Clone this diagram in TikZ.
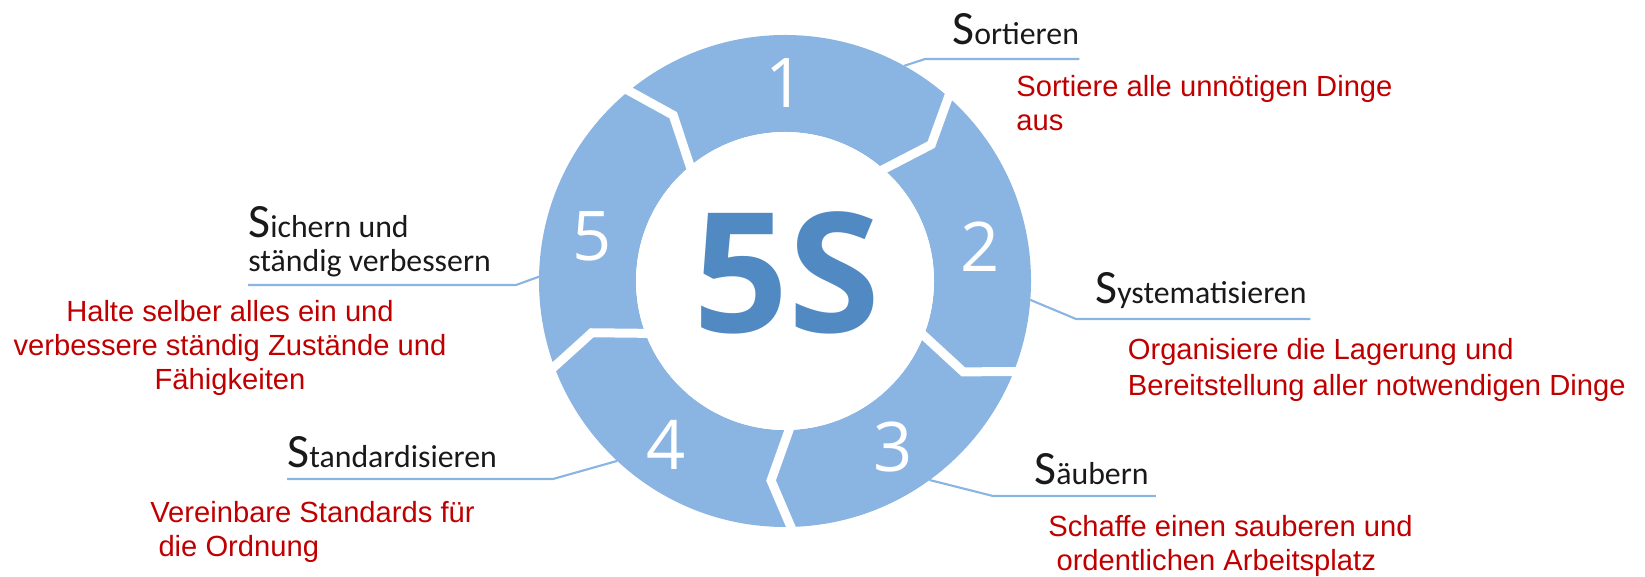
\documentclass[tikz,border=0pt]{standalone}
\usepackage{fontspec}
\setmainfont{Liberation Sans}
\newfontfamily\headfont{Carlito}
\newfontfamily\numfont{Open Sans}
\usetikzlibrary{calc,positioning}

\definecolor{ringblue}{RGB}{138,180,225}
\definecolor{darkblue}{RGB}{81,138,194}
\definecolor{textred}{RGB}{192,0,0}
\newcommand{\leadS}[1]{{\fontsize{27.2}{27.2}\selectfont S}#1}

\begin{document}
\begin{tikzpicture}[x=0.02cm, y=0.02cm,
    gap/.style={white, line width=0.18cm, line join=miter},
    num/.style={white, font=\numfont\fontsize{39}{39}\selectfont},
    head/.style={anchor=base west, inner sep=0pt, align=left, text=black!90,
        font=\headfont\fontsize{18.1}{19.6}\selectfont},
    note/.style={anchor=base west, inner sep=0pt, align=left, text=textred,
        font=\fontsize{16.6}{19.6}\selectfont},
    leader/.style={ringblue, line width=1.2pt}]
\useasboundingbox (0,0) rectangle (1645,577);

    \coordinate (C) at (785,296);

    % ring with the five arrow segments
    \fill[ringblue, even odd rule] (C) circle (246) (C) circle (149);
\begin{scope}[shift={(C)}]
    \foreach \g in {131,50,-20,-87,-158}
        \draw[gap] (\g:265) -- (\g-7:200) -- (\g:140);
    \fill[white] (0,0) circle (149);

    \node[num] (n1) at (90:198) {1};
    \node[num] (n2) at (10:198) {2};
    \node[num] (n3) at (-57:198) {3};
    \node[num] (n4) at (-126:203) {4};
    \node[num] (n5) at (167:198) {5};

    \coordinate (r1) at (61:246);
    \coordinate (r2) at (-4.4:246);
    \coordinate (r3) at (-54:246);
    \coordinate (r4) at (-133:246);
    \coordinate (r5) at (179:246);
\end{scope}

    \node[font=\numfont\bfseries\fontsize{95}{95}\selectfont, text=darkblue] (fives) at (787,304) {5S};

    % headings (base = last line)
    \node[head] (h1) at (952,532) {\leadS{ortieren}};
    \node[head] (h2) at (1095,273) {\leadS{ystematisieren}};
    \node[head] (h3) at (1034,92) {\leadS{äubern}};
    \node[head] (h4) at (287,109) {\leadS{tandardisieren}};
    \node[head] (h5) at (248,305) {\leadS{ichern und}\\ständig verbessern};

    % leader lines
    \coordinate (k1) at (925,518);
    \coordinate (k2) at (1076,258);
    \coordinate (k3) at (993,81);
    \coordinate (k4) at (553,98);
    \coordinate (k5) at (516,292);
    \draw[leader] (r1) -- (k1) -- (k1 -| h1.east);
    \draw[leader] (r2) -- (k2) -- ([xshift=2]k2 -| h2.east);
    \draw[leader] (r3) -- (k3) -- ([xshift=4]k3 -| h3.east);
    \draw[leader] (r4) -- (k4) -- (k4 -| h4.west);
    \draw[leader] (r5) -- (k5) -- (k5 -| h5.west);

    % descriptions (base = last line)
    \node[note] (t1) at (1016,446) {Sortiere alle unnötigen Dinge\\aus};
    \node[note, font=\fontsize{16.6}{21}\selectfont] (t2) at (1127.5,181) {Organisiere die Lagerung und\\Bereitstellung aller notwendigen Dinge};
    \node[note] (t3) at (1048,6) {Schaffe einen sauberen und\\\hspace*{.28em}ordentlichen Arbeitsplatz};
    \node[note] (t4) at (150,20) {Vereinbare Standards für\\\hspace*{.28em}die Ordnung};
    \node[note, anchor=base, align=center] (t5) at (230,187) {Halte selber alles ein und\\verbessere ständig Zustände und\\Fähigkeiten};
\end{tikzpicture}
\end{document}
